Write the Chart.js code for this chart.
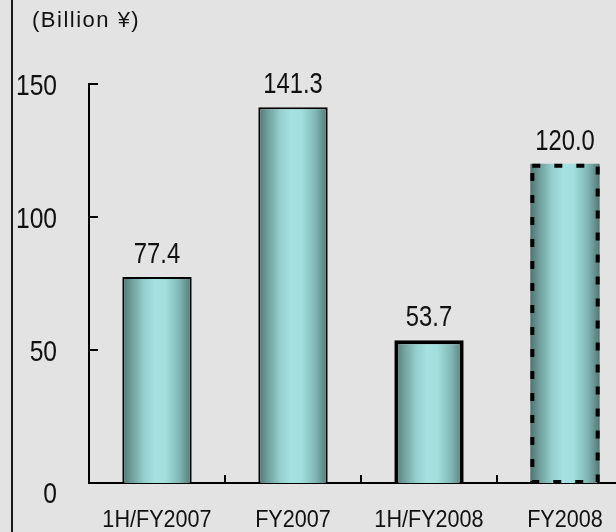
<!DOCTYPE html>
<html lang="en">
<head>
    <meta charset="UTF-8">
    <title>Billion Yen</title>
    <script src="https://cdn.jsdelivr.net/npm/chart.js"></script>
    <style>
        html, body {
            margin: 0;
            padding: 0;
            background-color: #e3e3e3;
            overflow: hidden;
        }
        .chart-box {
            position: relative;
            width: 640px;
            height: 532px;
        }
    </style>
</head>
<body>

<div class="chart-box">
    <canvas id="grafico"></canvas>
</div>

<script>
    const categories = ['1H/FY2007', 'FY2007', '1H/FY2008', 'FY2008'];
    const values = [77.4, 141.3, 53.7, 120.0];
    const valueLabels = ['77.4', '141.3', '53.7', '120.0'];
    const isForecast = [false, false, false, true];
    const yTicks = [0, 50, 100, 150];
    const unitLabel = '(Billion ¥)';

    const FONT = "'Liberation Sans', Arial, sans-serif";

    function barGradient(c) {
        const chart = c.chart;
        const area = chart.chartArea;
        if (!area) return '#a4e0df';
        const slot = (area.right - area.left) / categories.length;
        const cx = chart.scales.x.getPixelForValue(c.dataIndex);
        const half = slot * 0.51 / 2;
        const g = chart.ctx.createLinearGradient(cx - half, 0, cx + half, 0);
        g.addColorStop(0, '#4f7371');
        g.addColorStop(0.12, '#6c9a98');
        g.addColorStop(0.32, '#95d0cf');
        g.addColorStop(0.47, '#a6e2e1');
        g.addColorStop(0.62, '#a2dedd');
        g.addColorStop(0.82, '#82b8b6');
        g.addColorStop(1, '#527876');
        return g;
    }

    // texto estreito (a fonte original e condensada)
    function narrowText(ctx, text, x, y, align, baseline, size, sx) {
        ctx.save();
        ctx.translate(x, y);
        ctx.scale(sx, 1);
        ctx.font = size + 'px ' + FONT;
        ctx.fillStyle = '#111';
        ctx.textAlign = align;
        ctx.textBaseline = baseline;
        ctx.fillText(text, 0, 0);
        ctx.restore();
    }

    const extras = {
        id: 'extras',
        afterDatasetsDraw(chart) {
            const ctx = chart.ctx;
            const meta = chart.getDatasetMeta(0);
            meta.data.forEach((bar, i) => {
                if (isForecast[i]) {
                    const left = bar.x - bar.width / 2;
                    ctx.save();
                    ctx.setLineDash([8, 14]);
                    ctx.lineWidth = 4;
                    ctx.strokeStyle = '#000';
                    ctx.strokeRect(left + 2, bar.y + 2, bar.width - 4, bar.base - bar.y - 3);
                    ctx.restore();
                }
                narrowText(ctx, valueLabels[i], bar.x, bar.y - 14, 'center', 'alphabetic', 29, 0.82);
            });
        },
        afterDraw(chart) {
            const ctx = chart.ctx;
            const area = chart.chartArea;
            const x = chart.scales.x;
            const y = chart.scales.y;
            ctx.save();
            // moldura esquerda
            ctx.fillStyle = '#1a1a1a';
            ctx.fillRect(11, 0, 2, chart.height);

            // marcas internas
            ctx.strokeStyle = '#000';
            ctx.lineWidth = 2;
            ctx.beginPath();
            yTicks.forEach(v => {
                if (v === 0) return;
                const py = Math.round(y.getPixelForValue(v));
                ctx.moveTo(area.left, py);
                ctx.lineTo(area.left + 9, py);
            });
            for (let i = 1; i < categories.length; i++) {
                const px = Math.round((x.getPixelForValue(i - 1) + x.getPixelForValue(i)) / 2);
                ctx.moveTo(px, area.bottom);
                ctx.lineTo(px, area.bottom - 8);
            }
            ctx.stroke();
            ctx.restore();

            // rotulos do eixo y
            yTicks.forEach(v => {
                const py = y.getPixelForValue(v) + (v === 0 ? 12 : 3);
                narrowText(ctx, String(v), 57, py, 'right', 'middle', 30, 0.82);
            });

            // rotulos das categorias
            categories.forEach((lab, i) => {
                narrowText(ctx, lab, x.getPixelForValue(i), 527, 'center', 'alphabetic', 24, 0.9);
            });

            // unidade
            ctx.save();
            ctx.font = '22px ' + FONT;
            ctx.letterSpacing = '1.5px';
            ctx.fillStyle = '#111';
            ctx.textAlign = 'left';
            ctx.textBaseline = 'middle';
            ctx.fillText(unitLabel, 32, 21);
            ctx.restore();
        }
    };

    new Chart(document.getElementById('grafico'), {
        type: 'bar',
        data: {
            labels: categories,
            datasets: [{
                data: values,
                backgroundColor: barGradient,
                borderColor: '#000',
                borderWidth: c => c.dataIndex === 2 ? 4 : (isForecast[c.dataIndex] ? 0 : 2),
                barPercentage: 0.51,
                categoryPercentage: 1.0
            }]
        },
        options: {
            responsive: true,
            maintainAspectRatio: false,
            animation: false,
            layout: {
                padding: { left: 32, right: 7, top: 84, bottom: 0 }
            },
            plugins: {
                legend: { display: false },
                tooltip: { enabled: false }
            },
            scales: {
                x: {
                    offset: true,
                    grid: { display: false },
                    border: { display: true, color: '#000', width: 2 },
                    ticks: { display: false },
                    afterFit: s => { s.height = 49; }
                },
                y: {
                    min: 0,
                    max: 150,
                    grid: { display: false },
                    border: { display: true, color: '#000', width: 2 },
                    ticks: { display: false, stepSize: 50 },
                    afterFit: s => { s.width = 57; }
                }
            }
        },
        plugins: [extras]
    });
</script>

</body>
</html>
